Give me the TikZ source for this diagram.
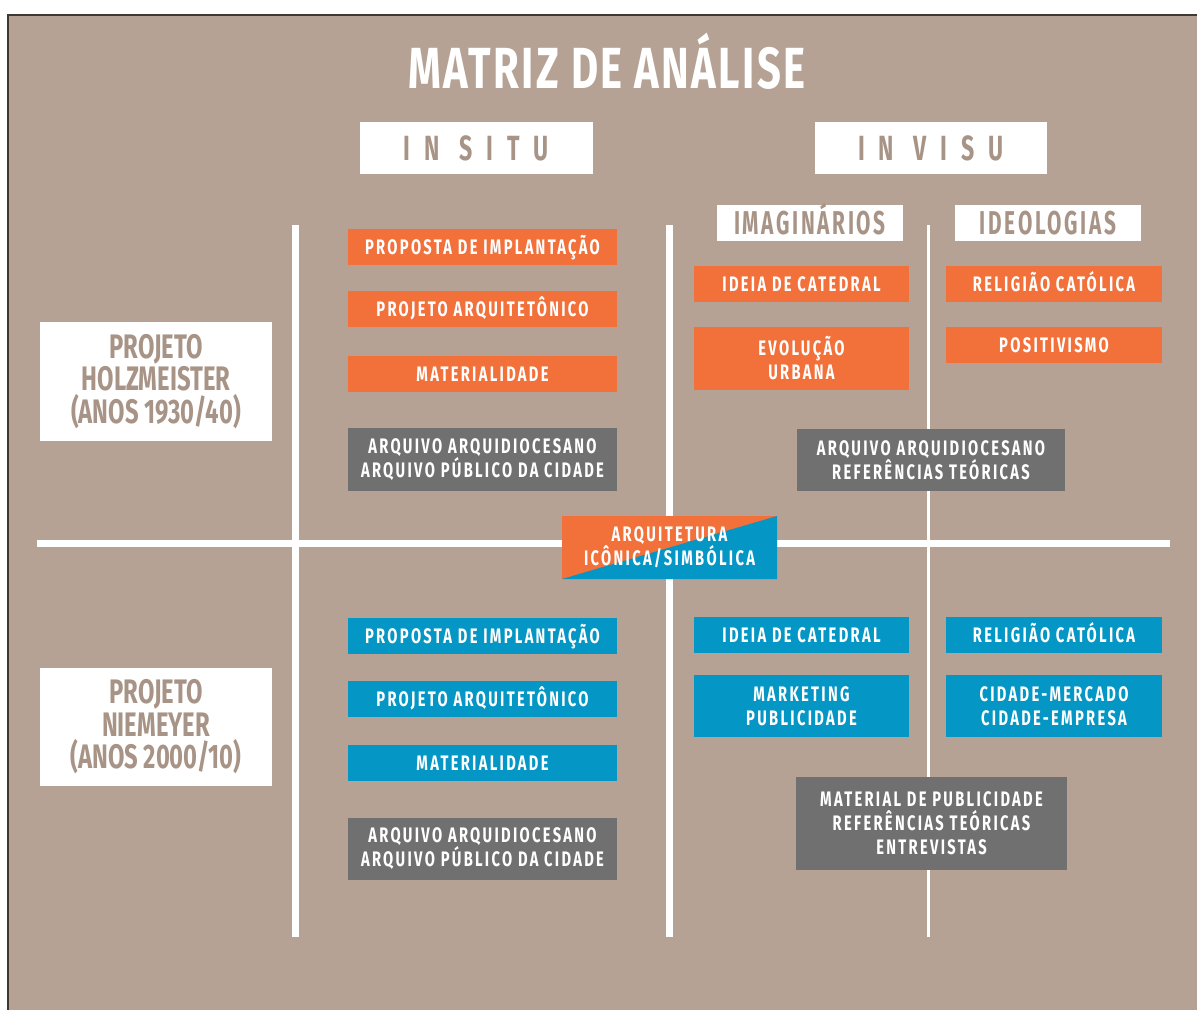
\documentclass[tikz,border=0pt]{standalone}
\usepackage{fontspec}
\newfontfamily\titlefont[FakeStretch=0.72,LetterSpace=4]{Fira Sans}
\newfontfamily\projfont[FakeStretch=0.7]{Fira Sans}
\newfontfamily\condsp[FakeStretch=0.7,LetterSpace=11]{Fira Sans}
\newfontfamily\widesp[FakeStretch=0.66,LetterSpace=40]{Fira Sans}
\newfontfamily\midsp[FakeStretch=0.63,LetterSpace=8]{Fira Sans}
\definecolor{bg}{RGB}{182,162,148}
\definecolor{bgtext}{RGB}{168,148,134}
\definecolor{org}{RGB}{242,112,58}
\definecolor{blu}{RGB}{4,150,196}
\definecolor{gry}{RGB}{112,112,112}
\definecolor{framec}{RGB}{62,56,50}
\tikzset{
  txtbox/.style={inner sep=0pt, outer sep=0pt, text=white, align=center,
    font=\condsp\bfseries\fontsize{21}{24}\selectfont},
  one/.style={text height=14.5pt, text depth=0pt},
  obox/.style={txtbox, fill=org},
  bbox/.style={txtbox, fill=blu},
  gbox/.style={txtbox, fill=gry},
  hdrbox/.style={inner sep=0pt, outer sep=0pt, fill=white, text=bgtext, align=center,
    font=\widesp\bfseries\fontsize{35}{36}\selectfont, text height=24pt, text depth=0pt},
  subbox/.style={inner sep=0pt, outer sep=0pt, fill=white, text=bgtext, align=center,
    font=\midsp\bfseries\fontsize{33}{36}\selectfont, text height=23pt, text depth=0pt},
  projbox/.style={inner sep=0pt, outer sep=0pt, fill=white, text=bgtext, align=center,
    font=\projfont\bfseries\fontsize{34}{32.5}\selectfont},
  gridline/.style={white, line width=7pt},
  thinline/.style={white, line width=3pt}
}
\newcommand{\rbox}[7]{\node[#1, minimum width={(#5-#3)*1pt}, minimum height={(#6-#4)*1pt}] (#2) at ({(#3+#5)/2},{(#4+#6)/2}) {#7};}
\begin{document}
\begin{tikzpicture}[x=1pt,y=-1pt]
\useasboundingbox (0,0) rectangle (1197,1010);
\fill[white] (0,0) rectangle (1197,1010);
\fill[framec] (7,13.5) rectangle (1197,1010);
\fill[bg] (8.8,15.6) rectangle (1197,1010);
% title
\node[text=white, font=\titlefont\bfseries\fontsize{58}{60}\selectfont, inner sep=0pt, text height=40pt, text depth=0pt] (title) at (607,68) {MATRIZ DE ANÁLISE};
% headers
\rbox{hdrbox}{insitu}{360}{122}{593}{174}{IN SITU}
\rbox{hdrbox}{invisu}{815}{122}{1047}{174}{IN VISU}
% grid lines
\draw[gridline] (295,225) -- (295,937);
\draw[gridline] (669,225) -- (669,937);
\draw[thinline] (928,225) -- (928,937);
\draw[gridline] (37,543) -- (1170,543);
% sub headers
\rbox{subbox}{imag}{717}{205}{903}{241}{IMAGINÁRIOS}
\rbox{subbox}{ideo}{955}{205}{1141}{241}{IDEOLOGIAS}
% project labels
\rbox{projbox}{holz}{40}{322}{272}{441}{PROJETO\\HOLZMEISTER\\(ANOS 1930/40)}
\rbox{projbox}{niem}{40}{668}{272}{786}{PROJETO\\NIEMEYER\\(ANOS 2000/10)}
% upper half
\rbox{obox,one}{a1}{348}{229}{617}{265}{PROPOSTA DE IMPLANTAÇÃO}
\rbox{obox,one}{a2}{348}{291}{617}{327}{PROJETO ARQUITETÔNICO}
\rbox{obox,one}{a3}{348}{356}{617}{392}{MATERIALIDADE}
\rbox{gbox}{a4}{348}{428}{617}{491}{ARQUIVO ARQUIDIOCESANO\\ARQUIVO PÚBLICO DA CIDADE}
\rbox{obox,one}{b1}{694}{266}{909}{302}{IDEIA DE CATEDRAL}
\rbox{obox}{b2}{694}{327}{909}{390}{EVOLUÇÃO\\URBANA}
\rbox{obox,one}{c1}{946}{266}{1162}{302}{RELIGIÃO CATÓLICA}
\rbox{obox,one}{c2}{946}{327}{1162}{363}{POSITIVISMO}
\rbox{gbox}{d1}{797}{429}{1065}{491}{ARQUIVO ARQUIDIOCESANO\\REFERÊNCIAS TEÓRICAS}
% center
\fill[org] (562,516) rectangle (777,579);
\fill[blu] (562,579) -- (777,516) -- (777,579) -- cycle;
\node[txtbox, minimum width=215pt, minimum height=63pt] (center) at (669.5,547.5) {ARQUITETURA\\ICÔNICA/SIMBÓLICA};
% lower half
\rbox{bbox,one}{e1}{348}{618}{617}{654}{PROPOSTA DE IMPLANTAÇÃO}
\rbox{bbox,one}{e2}{348}{681}{617}{717}{PROJETO ARQUITETÔNICO}
\rbox{bbox,one}{e3}{348}{745}{617}{781}{MATERIALIDADE}
\rbox{gbox}{e4}{348}{818}{617}{880}{ARQUIVO ARQUIDIOCESANO\\ARQUIVO PÚBLICO DA CIDADE}
\rbox{bbox,one}{f1}{694}{617}{909}{653}{IDEIA DE CATEDRAL}
\rbox{bbox}{f2}{694}{675}{909}{737}{MARKETING\\PUBLICIDADE}
\rbox{bbox,one}{g1}{946}{617}{1162}{653}{RELIGIÃO CATÓLICA}
\rbox{bbox}{g2}{946}{675}{1162}{737}{CIDADE-MERCADO\\CIDADE-EMPRESA}
\rbox{gbox}{h1}{796}{777}{1067}{870}{MATERIAL DE PUBLICIDADE\\REFERÊNCIAS TEÓRICAS\\ENTREVISTAS}
\end{tikzpicture}
\end{document}
